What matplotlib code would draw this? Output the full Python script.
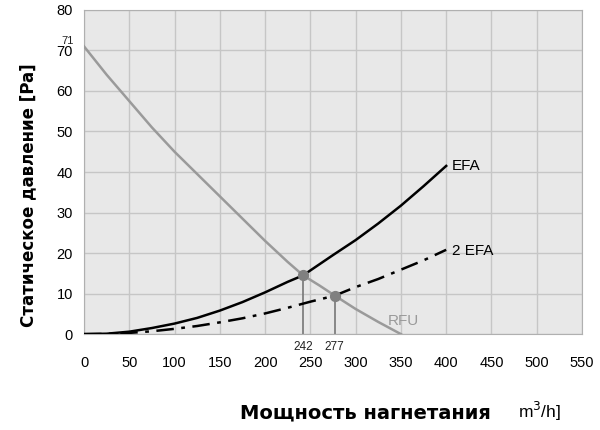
import matplotlib.pyplot as plt

# curve values
rfu_x = [0, 25, 50, 75, 100, 125, 150, 175, 200, 225, 242, 260, 277, 300, 325, 350]
rfu_y = [71, 64, 57.5, 51, 45, 39.5, 34, 28.5, 23, 17.8, 14.5, 12, 9.5, 6.2, 3, 0]

efa_x = [0, 25, 50, 75, 100, 125, 150, 175, 200, 225, 242, 275, 300, 325, 350, 375, 400]
efa_y = [0, 0.1, 0.6, 1.5, 2.6, 4, 5.8, 7.9, 10.3, 12.9, 14.5, 19.5, 23.2, 27.3, 31.7, 36.5, 41.5]

efa2_x = [0, 25, 50, 75, 100, 125, 150, 175, 200, 225, 250, 277, 300, 325, 350, 375, 400]
efa2_y = [0, 0.05, 0.3, 0.7, 1.3, 2, 2.9, 3.9, 5.1, 6.5, 8, 9.5, 11.6, 13.6, 15.9, 18.2, 20.8]

cross_x = [242, 277]
cross_y = [14.5, 9.5]

plt.rcParams['font.family'] = ['Liberation Sans', 'DejaVu Sans']

fig = plt.figure(figsize=(6, 4.3), dpi=100)
ax = fig.add_axes([0.14, 0.223, 0.83, 0.754])
ax.set_facecolor('#e8e8e8')

ax.plot(rfu_x, rfu_y, color='#9a9a9a', lw=1.8, zorder=3)
ax.plot(efa_x, efa_y, color='black', lw=1.8, zorder=4)
ax.plot(efa2_x, efa2_y, color='black', lw=1.8, ls=(0, (7, 3, 1.5, 3)), zorder=4)

for cx, cy in zip(cross_x, cross_y):
    ax.plot([cx, cx], [0, cy], color='#777777', lw=1.2, zorder=2)
    ax.text(cx, -3.1, str(cx), ha='center', va='center', fontsize=8.5, color='#222222')
ax.scatter(cross_x, cross_y, s=50, color='#808080', zorder=5)

ax.text(406, 41.5, 'EFA', fontsize=11, va='center')
ax.text(406, 20.5, '2 EFA', fontsize=11, va='center')
ax.text(336, 3.3, 'RFU', fontsize=11, va='center', color='#9a9a9a')
ax.text(-11, 71.2, '71', fontsize=8, ha='right', va='bottom', color='#222222')

ax.set_xlim(0, 550)
ax.set_ylim(0, 80)
ax.set_xticks(range(0, 551, 50))
ax.set_yticks(range(0, 81, 10))
ax.tick_params(length=0, labelsize=10.5, pad=8)
ax.tick_params(axis='x', pad=16)
ax.grid(color='#c6c6c6', lw=1)
ax.set_axisbelow(True)
for s in ax.spines.values():
    s.set_color('#b0b0b0')

fig.text(0.047, 0.547, 'Статическое давление [Pa]', fontsize=12, fontweight='bold',
         family='DejaVu Sans', rotation=90, ha='center', va='center')
fig.text(0.818, 0.028, 'Мощность нагнетания', fontsize=14, fontweight='bold',
         family='DejaVu Sans', ha='right')
fig.text(0.863, 0.028, 'm$^3$/h]', fontsize=12.5, ha='left')

fig.savefig('out.png', dpi=100)
